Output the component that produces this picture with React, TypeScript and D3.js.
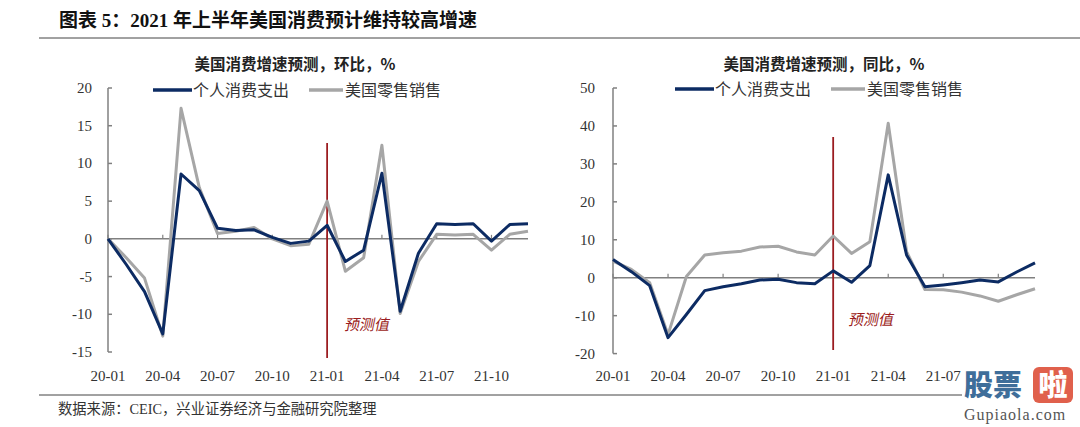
import React from "react";
import * as d3 from "d3";

const months = ["20-01","20-02","20-03","20-04","20-05","20-06","20-07","20-08","20-09","20-10","20-11","20-12","21-01","21-02","21-03","21-04","21-05","21-06","21-07","21-08","21-09","21-10","21-11","21-12"];
const xTickLabels = ["20-01","20-04","20-07","20-10","21-01","21-04","21-07","21-10"];
const seriesNames = ["个人消费支出", "美国零售销售"];

const momPCE = [0, -3.4, -7.0, -12.6, 8.6, 6.4, 1.4, 1.1, 1.2, 0.2, -0.6, -0.3, 1.8, -3.0, -1.5, 8.7, -9.6, -1.9, 2.0, 1.9, 2.0, -0.3, 1.9, 2.0];
const momRetail = [0, -2.5, -5.2, -12.9, 17.3, 6.8, 0.7, 1.0, 1.5, 0.0, -0.9, -0.7, 5.0, -4.3, -2.5, 12.4, -9.9, -3.0, 0.6, 0.5, 0.6, -1.5, 0.6, 1.0];
const yoyPCE = [4.8, 1.6, -2.1, -15.8, -9.7, -3.4, -2.4, -1.6, -0.6, -0.4, -1.3, -1.6, 1.8, -1.2, 3.2, 27.1, 6.0, -2.4, -1.9, -1.3, -0.6, -1.1, 1.5, 3.9];
const yoyRetail = [4.4, 2.2, -1.3, -15.0, 0.3, 6.0, 6.6, 7.0, 8.1, 8.3, 6.8, 6.0, 11.0, 6.4, 9.5, 40.7, 6.9, -3.1, -3.2, -3.8, -4.8, -6.2, -4.5, -2.9];
const momTicks = [-15, -10, -5, 0, 5, 10, 15, 20];
const yoyTicks = [-20, -10, 0, 10, 20, 30, 40, 50];

const NAVY = "#0c2b63";
const GRAY = "#a6a6a6";
const AXIS = "#808080";
const RED = "#9b1c20";
const SERIF = "'Liberation Serif', 'Noto Sans CJK SC', serif";

type PanelProps = {
  x0: number; x1: number; yTop: number; yBot: number;
  domain: [number, number]; ticks: number[];
  a: number[]; b: number[];
  title: string; titleX: number;
  legendX: number; legendY: number;
  redTop: number; redBot: number;
  labelRight: number;
  predX: number; predY: number;
  hiddenLabels: string[];
};

function Panel(p: PanelProps) {
  const x = d3.scaleLinear().domain([0, months.length - 1]).range([p.x0, p.x1]);
  const y = d3.scaleLinear().domain(p.domain).range([p.yBot, p.yTop]);
  const line = d3.line<number>().x((_, i) => x(i)).y((v) => y(v));
  const y0 = y(0);
  const idx12 = months.indexOf("21-01");
  return (
    <g>
      <text x={p.titleX} y={70} fontFamily="'Noto Sans CJK SC', sans-serif" fontWeight="bold" fontSize={15.5} fill="#222" textAnchor="middle">{p.title}</text>
      <line x1={p.legendX} x2={p.legendX + 39} y1={p.legendY} y2={p.legendY} stroke={NAVY} strokeWidth={3.5} />
      <text x={p.legendX + 40} y={p.legendY + 6} fontFamily={SERIF} fontSize={16} fill="#333">{seriesNames[0]}</text>
      <line x1={p.legendX + 156} x2={p.legendX + 190} y1={p.legendY} y2={p.legendY} stroke={GRAY} strokeWidth={3.5} />
      <text x={p.legendX + 192} y={p.legendY + 6} fontFamily={SERIF} fontSize={16} fill="#333">{seriesNames[1]}</text>
      <line x1={p.x0} x2={p.x0} y1={y(p.domain[1])} y2={y(p.domain[0])} stroke={AXIS} strokeWidth={1.5} />
      {p.ticks.map((t) => (
        <g key={t}>
          <line x1={p.x0} x2={p.x0 + 4} y1={y(t)} y2={y(t)} stroke={AXIS} strokeWidth={1.5} />
          <text x={p.labelRight} y={y(t) + 5} textAnchor="end" fontFamily={SERIF} fontSize={15} fill="#333">{t}</text>
        </g>
      ))}
      <line x1={p.x0} x2={p.x1} y1={y0} y2={y0} stroke={AXIS} strokeWidth={1.5} />
      {xTickLabels.map((lab) => {
        const i = months.indexOf(lab);
        return (
          <g key={lab}>
            <line x1={x(i)} x2={x(i)} y1={y0} y2={y0 - 4} stroke={AXIS} strokeWidth={1.2} />
            {p.hiddenLabels.includes(lab) ? null : (
              <text x={x(i)} y={381} textAnchor="middle" fontFamily={SERIF} fontSize={15} fill="#333">{lab}</text>
            )}
          </g>
        );
      })}
      <line x1={x(idx12)} x2={x(idx12)} y1={p.redTop} y2={p.redBot} stroke={RED} strokeWidth={1.8} />
      <path d={line(p.b) || ""} fill="none" stroke={GRAY} strokeWidth={3} strokeLinejoin="round" />
      <path d={line(p.a) || ""} fill="none" stroke={NAVY} strokeWidth={3} strokeLinejoin="round" />
      <text x={p.predX} y={p.predY} fontFamily="'Noto Sans CJK SC', sans-serif" fontSize={15} fill={RED} transform={`skewX(-12) translate(${p.predY * 0.2126},0)`}>预测值</text>
    </g>
  );
}

export default function App() {
  return (
    <svg width={1080} height={427} style={{ position: "absolute", left: 0, top: 0, background: "#fff" }}>
      <rect x={0} y={0} width={1080} height={427} fill="#fff" />
      <text x={59} y={27} fontFamily="'Liberation Serif', 'Noto Sans CJK SC', serif" fontWeight="bold" fontSize={19} fill="#111">图表 5：2021 年上半年美国消费预计维持较高增速</text>
      <line x1={39} x2={1080} y1={38} y2={38} stroke="#444" strokeWidth={1} />
      <Panel x0={108} x1={528} yTop={88} yBot={352} domain={[-15, 20]} ticks={momTicks}
        a={momPCE} b={momRetail} title="美国消费增速预测，环比，%" titleX={295}
        legendX={153} legendY={90} redTop={143} redBot={358} labelRight={92}
        predX={344} predY={330} hiddenLabels={[]} />
      <Panel x0={613} x1={1035} yTop={88} yBot={353.6} domain={[-20, 50]} ticks={yoyTicks}
        a={yoyPCE} b={yoyRetail} title="美国消费增速预测，同比，%" titleX={824}
        legendX={675} legendY={89} redTop={137} redBot={350} labelRight={595}
        predX={848} predY={325} hiddenLabels={["21-10"]} />
      <line x1={39} x2={1080} y1={395} y2={395} stroke="#444" strokeWidth={1} />
      <text x={58} y={414} fontFamily={SERIF} fontSize={14.3} fill="#333">数据来源：CEIC，兴业证券经济与金融研究院整理</text>
      <g>
        <rect x={962} y={368} width={118} height={59} fill="#fff" />
        <text x={964} y={396} fontFamily="'Noto Sans CJK SC', sans-serif" fontWeight="900" fontSize={29} fill="#3f6e9a">股票</text>
        <rect x={1033} y={367} width={40} height={36} rx={6} fill="#e0604c" />
        <text x={1053} y={396} textAnchor="middle" fontFamily="'Noto Sans CJK SC', sans-serif" fontWeight="900" fontSize={29} fill="#fff">啦</text>
        <text x={964} y={420} fontFamily="'Liberation Serif', serif" fontSize={16} fill="#555" letterSpacing={1}>Gupiaola.com</text>
      </g>
    </svg>
  );
}
